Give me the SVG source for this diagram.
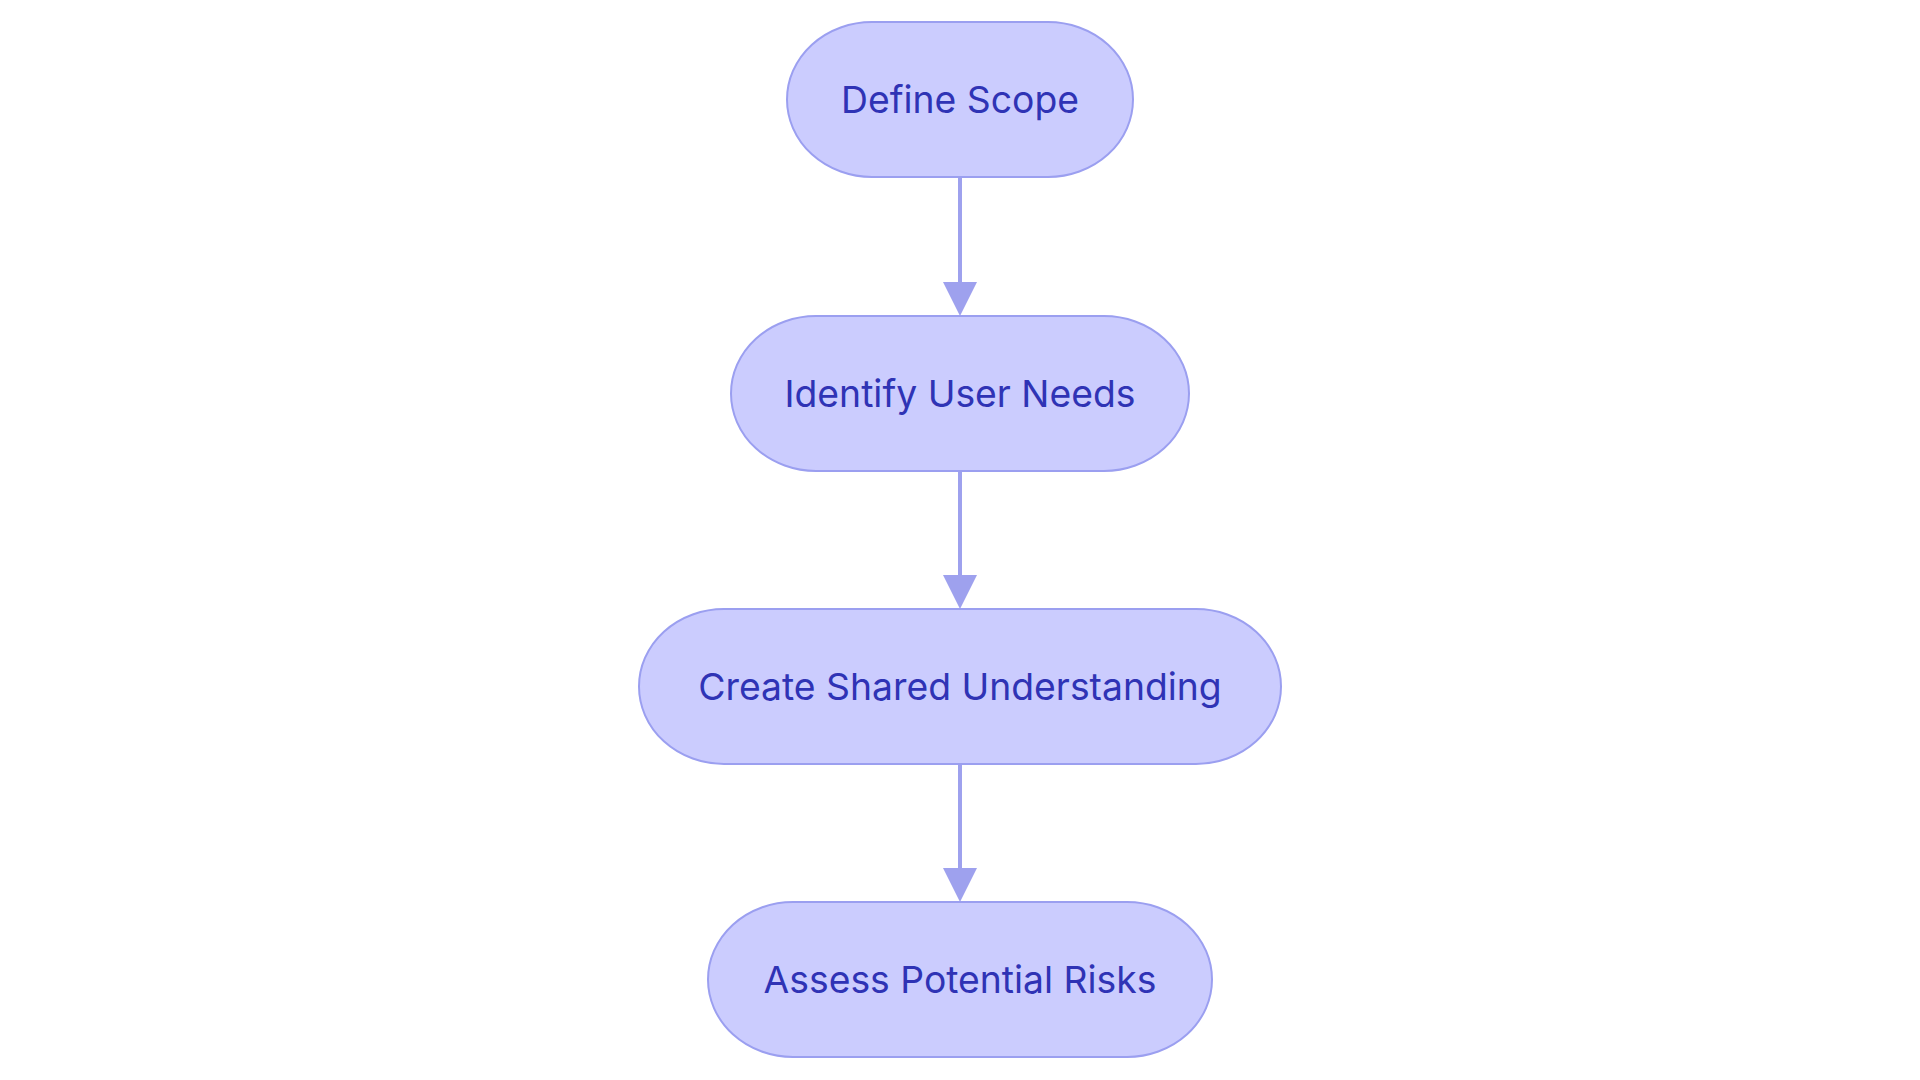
<svg xmlns="http://www.w3.org/2000/svg" width="1920" height="1080" viewBox="0 0 1920 1080">
<style>
.node rect{fill:#cbccfe;stroke:#9b9ff0;stroke-width:2}
.node text{font-family:Inter,"Noto Sans",sans-serif;font-size:37.3px;fill:#2f33b5;text-anchor:middle;dominant-baseline:central}
.edge{stroke:#9ea1ee;stroke-width:4;fill:none}
.head{fill:#9ea1ee}
</style>
<rect width="1920" height="1080" fill="#ffffff"/>
<g id="connectors">
<line class="edge" x1="960" y1="178" x2="960" y2="284"/>
<path class="head" d="M943,282 L977,282 L960,316 z"/>
<line class="edge" x1="960" y1="471" x2="960" y2="577"/>
<path class="head" d="M943,575 L977,575 L960,609 z"/>
<line class="edge" x1="960" y1="765" x2="960" y2="870"/>
<path class="head" d="M943,868 L977,868 L960,902 z"/>
</g>
<g id="node1" class="node">
<rect x="787" y="22" width="346" height="155" rx="85" ry="77.5"/>
<text x="960" y="99">Define Scope</text>
</g>
<g id="node2" class="node">
<rect x="731" y="316" width="458" height="155" rx="85" ry="77.5"/>
<text x="960" y="393">Identify User Needs</text>
</g>
<g id="node3" class="node">
<rect x="639" y="609" width="642" height="155" rx="85" ry="77.5"/>
<text x="960" y="686">Create Shared Understanding</text>
</g>
<g id="node4" class="node">
<rect x="708" y="902" width="504" height="155" rx="85" ry="77.5"/>
<text x="960" y="979">Assess Potential Risks</text>
</g>
</svg>
